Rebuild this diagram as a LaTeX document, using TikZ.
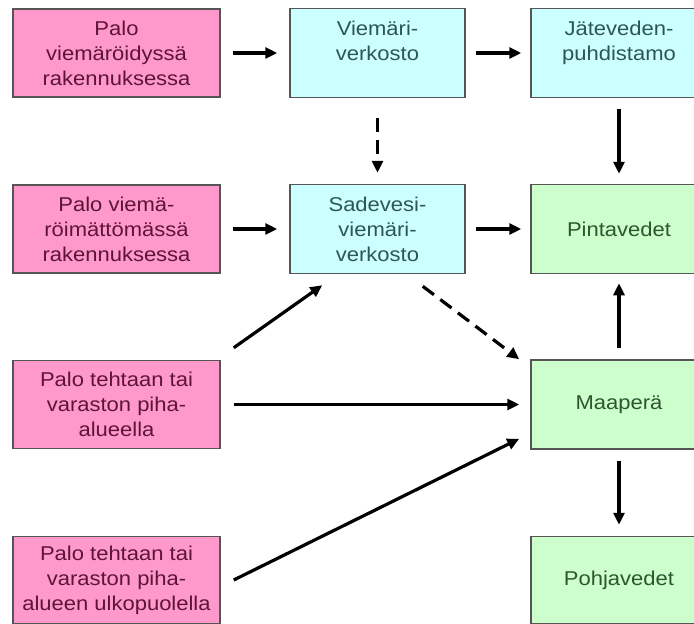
\documentclass[tikz,border=0pt]{standalone}
\usepackage{fontspec}
\setmainfont{Liberation Sans}[FakeStretch=1.1]
\usetikzlibrary{arrows.meta,calc}
\definecolor{pinkfill}{HTML}{FF99CC}
\definecolor{cyanfill}{HTML}{CCFFFF}
\definecolor{greenfill}{HTML}{CCFFCC}
\definecolor{pinktext}{HTML}{5E1438}
\definecolor{cyantext}{HTML}{2F5656}
\definecolor{greentext}{HTML}{2E5530}
\definecolor{boxline}{HTML}{555555}
\begin{document}
\begin{tikzpicture}[x=1pt,y=1pt,
  box/.style={draw=boxline,line width=1.5pt,rectangle,inner sep=0pt,align=center,
    font=\fontsize{20}{25}\selectfont},
  pinkbox/.style={box,fill=pinkfill,text=pinktext,minimum width=207pt,minimum height=88pt},
  cyanbox/.style={box,fill=cyanfill,text=cyantext,minimum width=175pt,minimum height=89pt},
  greenbox/.style={box,fill=greenfill,text=greentext,minimum width=176pt,minimum height=89pt},
  arr/.style={line width=3.2pt,-{Triangle[length=12pt,width=11pt]}},
  darr/.style={arr,dash pattern=on 14pt off 8pt},
]
\useasboundingbox (0,0) rectangle (694,-624);
\fill[white] (0,0) rectangle (694,-624);
% left column
\node[pinkbox] (p1) at (116.5,-53) {Palo\\viemäröidyssä\\rakennuksessa};
\node[pinkbox] (p2) at (116.5,-229) {Palo viemä-\\röimättömässä\\rakennuksessa};
\node[pinkbox] (p3) at (116.5,-404.5) {Palo tehtaan tai\\varaston piha-\\alueella};
\node[pinkbox,minimum height=87pt] (p4) at (116.5,-580) {Palo tehtaan tai\\varaston piha-\\alueen ulkopuolella};
% middle column
\node[cyanbox] (v1) at (377.5,-53) {Viemäri-\\verkosto\\\mbox{}};
\node[cyanbox] (v2) at (377.5,-229) {Sadevesi-\\viemäri-\\verkosto};
% right column
\node[cyanbox,minimum width=176pt] (j) at (619,-53) {Jäteveden-\\puhdistamo\\\mbox{}};
\node[greenbox] (pv) at (619,-229) {Pintavedet};
\node[greenbox] (m) at (619,-404.5) {Maaperä};
\node[greenbox,minimum height=87pt] (ph) at (619,-580) {Pohjavedet};
% connectors
\draw[arr,shorten <=12pt,shorten >=12pt] (p1.east) -- (v1.west);
\draw[arr,shorten <=10pt,shorten >=9pt] (v1.east) -- (j.west);
\draw[arr,shorten <=11pt,shorten >=10pt] (j.south) -- (pv.north);
\draw[darr,shorten <=20pt,shorten >=11pt] (v1.south) -- (v2.north);
\draw[arr,shorten <=12pt,shorten >=12pt] (p2.east) -- (v2.west);
\draw[arr,shorten <=10pt,shorten >=9pt] (v2.east) -- (pv.west);
\draw[arr] ($(p3.north east)+(13,12)$) -- ($(v2.south west)+(33,-11)$);
\draw[darr] ($(v2.south east)+(-43,-12)$) -- ($(m.north west)+(-11,0)$);
\draw[arr,shorten <=13pt,shorten >=11pt] (p3.east) -- (m.west);
\draw[arr] ($(p4.east)+(13,0)$) -- ($(m.south west)+(-11,11)$);
\draw[arr,shorten <=11pt,shorten >=9pt] (m.north) -- (pv.south);
\draw[arr,shorten <=11pt,shorten >=11pt] (m.south) -- (ph.north);
\end{tikzpicture}
\end{document}
